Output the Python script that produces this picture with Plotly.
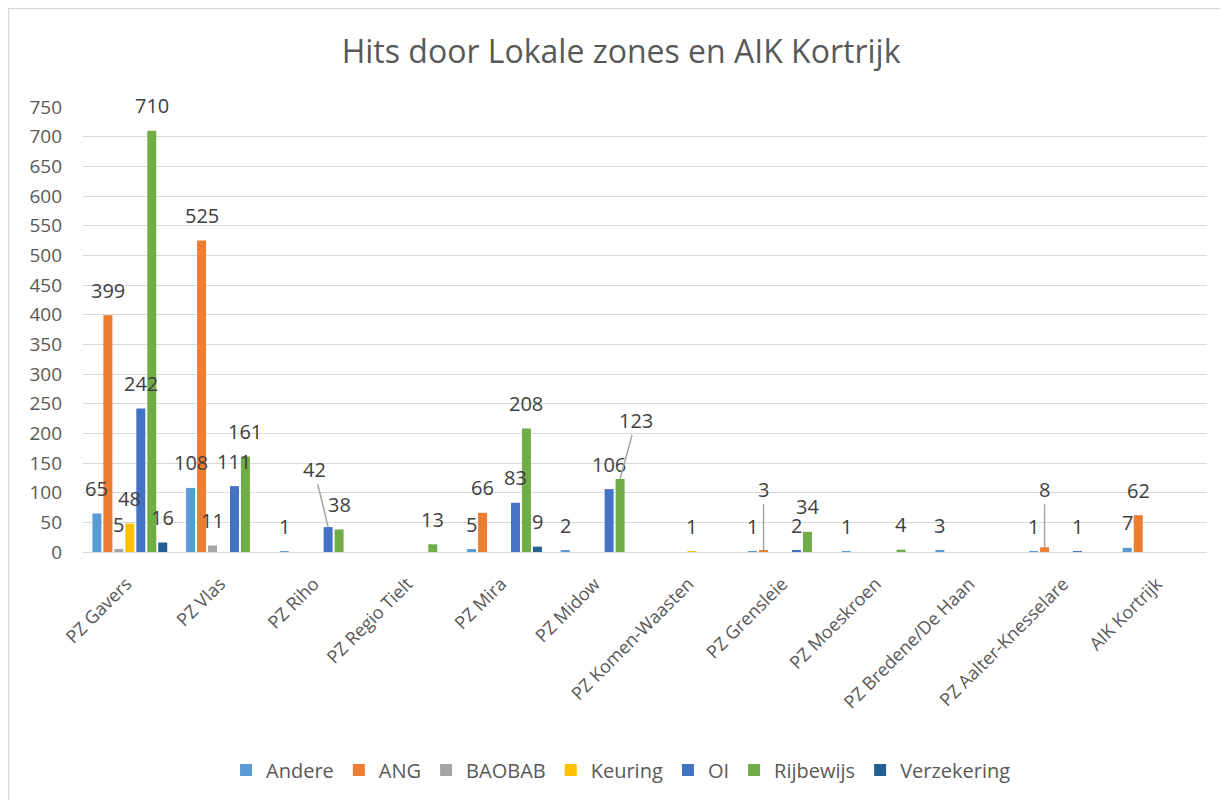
import plotly.graph_objects as go

categories = ["PZ Gavers", "PZ Vlas", "PZ Riho", "PZ Regio Tielt", "PZ Mira", "PZ Midow",
              "PZ Komen-Waasten", "PZ Grensleie", "PZ Moeskroen", "PZ Bredene/De Haan",
              "PZ Aalter-Knesselare", "AIK Kortrijk"]

andere      = [65, 108, 1, None, 5, 2, None, 1, 1, 3, 1, 7]
ang         = [399, 525, None, None, 66, None, None, 3, None, None, 8, 62]
baobab      = [5, 11, None, None, None, None, None, None, None, None, None, None]
keuring     = [48, None, None, None, None, None, 1, None, None, None, None, None]
oi          = [242, 111, 42, None, 83, 106, None, 2, None, None, 1, None]
rijbewijs   = [710, 161, 38, 13, 208, 123, None, 34, 4, None, None, None]
verzekering = [16, None, None, None, 9, None, None, None, None, None, None, None]

series_names = ["Andere", "ANG", "BAOBAB", "Keuring", "OI", "Rijbewijs", "Verzekering"]
series_vals = [andere, ang, baobab, keuring, oi, rijbewijs, verzekering]
colors = ["#5B9BD5", "#ED7D31", "#A5A5A5", "#FFC000", "#4472C4", "#70AD47", "#255E91"]

y_ticks = list(range(0, 751, 50))

# labels with leader lines: (series index, category index) -> (ax, ay) pixel offset
leaders = {(4, 2): (-14, -58), (5, 5): (16, -59), (1, 7): (0, -61), (1, 10): (0, -58)}

FONT = "Open Sans"
bargap = 0.18

fig = go.Figure()
for name, vals, col in zip(series_names, series_vals, colors):
    fig.add_trace(go.Bar(name=name, x=categories, y=vals, marker_color=col,
                         marker_line_width=0))

group = 1 - bargap
slot = group / len(series_names)
annotations = []
for j, vals in enumerate(series_vals):
    off = -group / 2 + slot * (j + 0.5)
    for i, v in enumerate(vals):
        if v is None:
            continue
        if (j, i) in leaders:
            ax, ay = leaders[(j, i)]
            annotations.append(dict(x=i + off, y=v, xref="x", yref="y", text=str(v),
                                    showarrow=True, arrowhead=0, arrowwidth=1.5,
                                    arrowcolor="#A6A6A6", ax=ax, ay=ay, standoff=0,
                                    font=dict(family=FONT, size=20, color="#404040")))
        else:
            annotations.append(dict(x=i + off, y=v, xref="x", yref="y", text=str(v),
                                    showarrow=False, yanchor="middle", yshift=25,
                                    font=dict(family=FONT, size=20, color="#404040")))

W, H = 1220, 792
fig.update_layout(
    width=W, height=H,
    barmode="group", bargap=bargap, bargroupgap=0.18,
    paper_bgcolor="white", plot_bgcolor="white",
    margin=dict(l=75, r=21, t=99, b=248, autoexpand=False),
    font=dict(family=FONT, color="#595959"),
    title=dict(text="Hits door Lokale zones en AIK Kortrijk", x=0.5025, xref="container",
               y=0.9444, yref="container", yanchor="middle",
               font=dict(family=FONT, size=32, color="#595959")),
    xaxis=dict(tickangle=-45, tickfont=dict(family=FONT, size=18, color="#595959"),
               showline=True, linecolor="#D9D9D9", linewidth=1, ticks="",
               showgrid=False, automargin=False, ticklabelstandoff=10,
               ticksuffix="\u00a0"),
    yaxis=dict(range=[0, 750], tickvals=y_ticks, showgrid=True, gridcolor="#D9D9D9",
               gridwidth=1, zeroline=False, ticks="", ticklabelstandoff=20,
               automargin=False,
               tickfont=dict(family=FONT, size=19, color="#595959")),
    legend=dict(orientation="h", x=0.5025, xanchor="center", xref="container",
                y=0.0379, yref="container", yanchor="middle",
                font=dict(family=FONT, size=20, color="#595959"),
                itemwidth=30, tracegroupgap=0),
    annotations=annotations,
    shapes=[dict(type="rect", xref="paper", yref="paper",
                 x0=(8.5 - 83) / 1124, x1=(1240 - 83) / 1124,
                 y0=(552 - 810) / 445, y1=(552 - 8.5) / 445,
                 line=dict(color="#D9D9D9", width=1.5), fillcolor="rgba(0,0,0,0)")],
)

fig.write_html("out.html")
